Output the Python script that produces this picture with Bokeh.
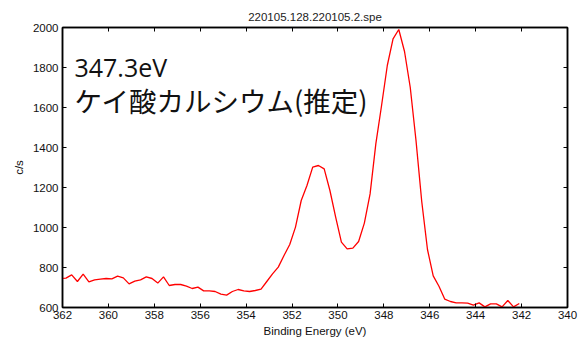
from bokeh.plotting import figure
from bokeh.models import Range1d, FixedTicker, LinearAxis, Label, ColumnDataSource
from bokeh.embed import file_html
from bokeh.resources import INLINE

# ---- data ----
title_text = "220105.128.220105.2.spe"
x_label = "Binding Energy (eV)"
y_label = "c/s"
peak_label = "347.3eV"
compound_label = "ケイ酸カルシウム(推定)"

x_ticks = [362, 360, 358, 356, 354, 352, 350, 348, 346, 344, 342, 340]
y_ticks = [600, 800, 1000, 1200, 1400, 1600, 1800, 2000]

energy = [362.10, 361.85, 361.60, 361.35, 361.10, 360.85, 360.60, 360.35, 360.10,
          359.85, 359.60, 359.35, 359.10, 358.85, 358.60, 358.35, 358.10,
          357.85, 357.60, 357.35, 357.10, 356.85, 356.60, 356.35, 356.10,
          355.85, 355.60, 355.35, 355.10, 354.85, 354.60, 354.35, 354.10,
          353.85, 353.60, 353.35, 353.10, 352.85, 352.60, 352.35, 352.10,
          351.85, 351.60, 351.35, 351.10, 350.85, 350.60, 350.35, 350.10,
          349.85, 349.60, 349.35, 349.10, 348.85, 348.60, 348.35, 348.10,
          347.85, 347.60, 347.35, 347.10, 346.85, 346.60, 346.35, 346.10,
          345.85, 345.60, 345.35, 345.10, 344.85, 344.60, 344.35, 344.10,
          343.85, 343.60, 343.35, 343.10, 342.85, 342.60, 342.35, 342.10]

counts = [745, 747, 763, 730, 767, 728, 738, 742, 745,
          743, 757, 748, 718, 732, 738, 753, 745,
          722, 753, 710, 715, 715, 707, 695, 702,
          683, 683, 680, 667, 662, 680, 690, 683,
          680, 685, 692, 730, 768, 802, 860, 915,
          1002, 1135, 1210, 1302, 1310, 1293, 1185, 1052,
          927, 893, 897, 930, 1022, 1168, 1418, 1610,
          1810, 1943, 1990, 1880, 1700, 1435, 1130, 890,
          758, 706, 642, 630, 623, 623, 622, 612,
          623, 603, 618, 618, 603, 635, 603, 620]

src = ColumnDataSource(data=dict(energy=energy, counts=counts))

TICK_FONT = "Liberation Sans"

p = figure(width=583, height=342,
           x_range=Range1d(362, 340), y_range=Range1d(600, 2000),
           output_backend="svg", toolbar_location=None,
           min_border_left=62, min_border_right=16,
           min_border_top=27, min_border_bottom=35,
           title=title_text)

p.title.align = "center"
p.title.text_font = TICK_FONT
p.title.text_font_size = "11.5px"
p.title.text_font_style = "normal"
p.title.text_color = "#222222"

p.grid.visible = False
p.outline_line_color = "black"
p.outline_line_width = 1.5
p.background_fill_color = "white"
p.border_fill_color = "white"

p.line("energy", "counts", source=src, line_color="#ff0000", line_width=1.3)

def style_axis(ax, show_labels=True):
    ax.major_tick_in = 4
    ax.major_tick_out = 0
    ax.minor_tick_in = 0
    ax.minor_tick_out = 0
    ax.axis_line_color = "black"
    ax.axis_line_width = 1.5
    ax.major_tick_line_width = 1
    ax.major_label_text_font = TICK_FONT
    ax.major_label_text_font_size = "11.5px"
    ax.major_label_text_color = "#111111" if show_labels else None
    ax.axis_label_text_font = TICK_FONT
    ax.axis_label_text_font_size = "11.5px"
    ax.axis_label_text_font_style = "normal"
    ax.axis_label_text_color = "#111111"

p.xaxis.ticker = FixedTicker(ticks=x_ticks)
p.yaxis.ticker = FixedTicker(ticks=y_ticks)
p.xaxis.axis_label = x_label
p.yaxis.axis_label = y_label
style_axis(p.xaxis[0])
style_axis(p.yaxis[0])
p.xaxis.major_label_standoff = 3
p.xaxis.axis_label_standoff = 3
p.yaxis.major_label_standoff = 4
p.yaxis.axis_label_standoff = 5

top = LinearAxis(ticker=FixedTicker(ticks=x_ticks))
style_axis(top, show_labels=False)
p.add_layout(top, "above")
right = LinearAxis(ticker=FixedTicker(ticks=y_ticks))
style_axis(right, show_labels=False)
p.add_layout(right, "right")

p.add_layout(Label(x=361.48, y=1801, text=peak_label,
                   text_font="Open Sans", text_font_size="25px",
                   text_color="#111111", text_baseline="alphabetic"))
p.add_layout(Label(x=361.48, y=1638, text=compound_label,
                   text_font="Noto Sans CJK JP", text_font_size="27.5px",
                   text_color="#111111", text_baseline="alphabetic"))

open("out.html", "w").write(file_html(p, INLINE))
